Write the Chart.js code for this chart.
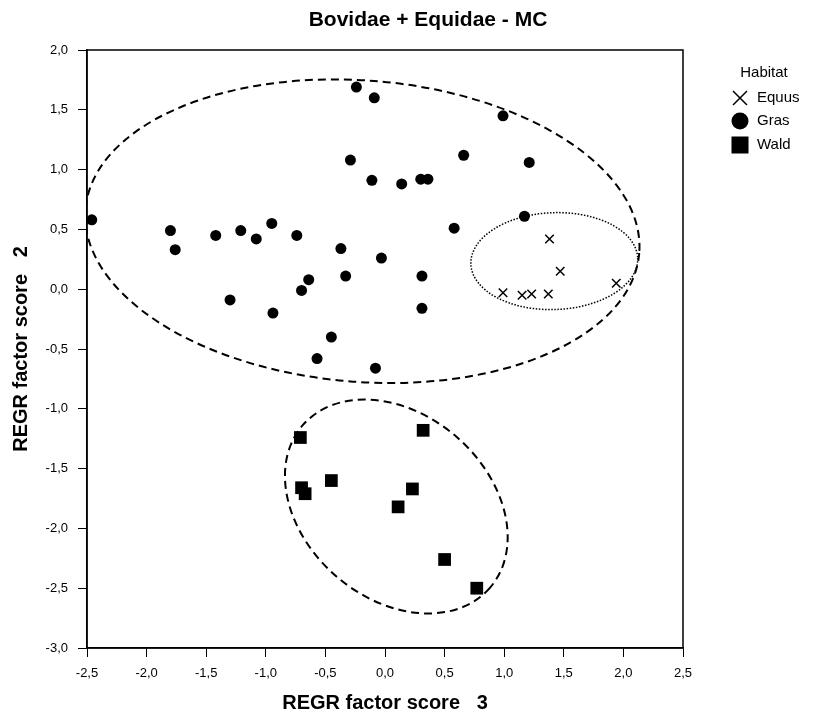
<!DOCTYPE html>
<html>
<head>
<meta charset="utf-8">
<title>Bovidae + Equidae - MC</title>
<script src="https://cdn.jsdelivr.net/npm/chart.js@4.4.1/dist/chart.umd.min.js"></script>
<style>
  html, body { margin: 0; padding: 0; background: #fff; }
</style>
</head>
<body>
<canvas id="scatter" width="813" height="715"></canvas>
<script>
// REGR factor scores (factor 3 on x, factor 2 on y) per habitat group
var groups = ['Equus', 'Gras', 'Wald'];

var equusX = [1.38, 1.47, 0.99, 1.15, 1.23, 1.37, 1.94];
var equusY = [0.42, 0.15, -0.03, -0.05, -0.04, -0.04, 0.05];

var grasX = [-2.46, -1.80, -1.76, -1.42, -1.21, -1.08, -0.95, -0.74, -1.30, -0.94, -0.70,
             -0.64, -0.37, -0.33, -0.03, -0.45, -0.57, -0.08, -0.24, -0.09, -0.29, -0.11,
             0.14, 0.30, 0.36, 0.66, 0.99, 1.21, 1.17, 0.58, 0.31, 0.31];
var grasY = [0.58, 0.49, 0.33, 0.45, 0.49, 0.42, 0.55, 0.45, -0.09, -0.20, -0.01,
             0.08, 0.34, 0.11, 0.26, -0.40, -0.58, -0.66, 1.69, 1.60, 1.08, 0.91,
             0.88, 0.92, 0.92, 1.12, 1.45, 1.06, 0.61, 0.51, 0.11, -0.16];

var waldX = [-0.71, -0.70, -0.67, -0.45, 0.32, 0.23, 0.11, 0.50, 0.77];
var waldY = [-1.24, -1.66, -1.71, -1.60, -1.18, -1.67, -1.82, -2.26, -2.50];

var xTicks = [-2.5, -2.0, -1.5, -1.0, -0.5, 0.0, 0.5, 1.0, 1.5, 2.0, 2.5];
var yTicks = [-3.0, -2.5, -2.0, -1.5, -1.0, -0.5, 0.0, 0.5, 1.0, 1.5, 2.0];

// group outlines: centre and half axes in score units, tilt in degrees
var outlines = [
  { cx: 1.42, cy: 0.235, rx: 0.70, ry: 0.405, tilt: -2, dash: [1.5, 1.6], width: 1.5 },
  { cx: -0.19, cy: 0.485, rx: 2.33, ry: 1.26, tilt: 4.5, dash: [8, 5], width: 2 },
  { cx: 0.095, cy: -1.817, rx: 1.04, ry: 0.77, tilt: 41, dash: [8, 5], width: 2 }
];

var FONT = '"Liberation Sans", Arial, sans-serif';
Chart.defaults.font.family = FONT;
Chart.defaults.color = '#000';

function points(xs, ys) {
  return xs.map(function (x, i) { return { x: x, y: ys[i] }; });
}

function comma(v) {
  return Number(v).toFixed(1).replace('.', ',');
}

var decor = {
  id: 'decor',
  beforeDatasetsDraw: function (chart) {
    var ctx = chart.ctx, a = chart.chartArea;
    var xs = chart.scales.x, ys = chart.scales.y;
    ctx.save();
    ctx.beginPath();
    ctx.rect(a.left, a.top, a.right - a.left, a.bottom - a.top);
    ctx.clip();
    outlines.forEach(function (e) {
      var cx = xs.getPixelForValue(e.cx), cy = ys.getPixelForValue(e.cy);
      var rx = Math.abs(xs.getPixelForValue(e.cx + e.rx) - cx);
      var ry = Math.abs(ys.getPixelForValue(e.cy + e.ry) - cy);
      ctx.beginPath();
      ctx.setLineDash(e.dash);
      ctx.lineWidth = e.width;
      ctx.strokeStyle = '#000';
      ctx.ellipse(cx, cy, rx, ry, e.tilt * Math.PI / 180, 0, 2 * Math.PI);
      ctx.stroke();
    });
    ctx.restore();
  },
  afterDraw: function (chart) {
    var ctx = chart.ctx, a = chart.chartArea;
    ctx.save();
    // box round the plot
    ctx.strokeStyle = '#000';
    ctx.lineWidth = 1.5;
    ctx.strokeRect(a.left, a.top, a.right - a.left, a.bottom - a.top);

    // heading
    ctx.fillStyle = '#000';
    ctx.textAlign = 'center';
    ctx.textBaseline = 'middle';
    ctx.font = 'bold 21px ' + FONT;
    ctx.fillText('Bovidae + Equidae - MC', 428, 20);

    // legend
    ctx.font = '15px ' + FONT;
    ctx.fillText('Habitat', 764, 73);
    ctx.textAlign = 'left';
    var gx = 740, tx = 757, rows = [98, 121, 145];
    groups.forEach(function (g, i) {
      var y = rows[i];
      ctx.fillText(g, tx, y);
      if (g === 'Equus') {
        ctx.lineWidth = 1.5;
        ctx.beginPath();
        ctx.moveTo(gx - 7, y - 7); ctx.lineTo(gx + 7, y + 7);
        ctx.moveTo(gx - 7, y + 7); ctx.lineTo(gx + 7, y - 7);
        ctx.stroke();
      } else if (g === 'Gras') {
        ctx.beginPath();
        ctx.arc(gx, y, 8.5, 0, 2 * Math.PI);
        ctx.fill();
      } else {
        ctx.fillRect(gx - 8.5, y - 8.5, 17, 17);
      }
    });
    ctx.restore();
  }
};

new Chart(document.getElementById('scatter'), {
  type: 'scatter',
  data: {
    datasets: [
      { label: groups[0], data: points(equusX, equusY), pointStyle: 'crossRot', radius: 6,
        borderColor: '#000', backgroundColor: '#000', borderWidth: 1.5 },
      { label: groups[1], data: points(grasX, grasY), pointStyle: 'circle', radius: 5.5,
        borderColor: '#000', backgroundColor: '#000', borderWidth: 0 },
      { label: groups[2], data: points(waldX, waldY), pointStyle: 'rect', radius: 9,
        borderColor: '#000', backgroundColor: '#000', borderWidth: 0 }
    ]
  },
  options: {
    responsive: false,
    animation: false,
    events: [],
    layout: { padding: { left: 0, right: 130, top: 50, bottom: 0 } },
    plugins: {
      legend: { display: false },
      title: { display: false },
      tooltip: { enabled: false }
    },
    scales: {
      x: {
        type: 'linear',
        min: -2.5,
        max: 2.5,
        afterBuildTicks: function (s) { s.ticks = xTicks.map(function (v) { return { value: v }; }); },
        afterFit: function (s) { s.height = 67; },
        ticks: { callback: comma, font: { size: 13 }, color: '#000', padding: 9, maxRotation: 0, autoSkip: false },
        grid: { drawOnChartArea: false, drawTicks: true, tickLength: 9, color: '#000', lineWidth: 1 },
        border: { display: true, color: '#000', width: 1.5 },
        title: { display: true, text: 'REGR factor score   3', color: '#000',
                 font: { size: 20, weight: 'bold' }, padding: { top: 0, bottom: 0 } }
      },
      y: {
        type: 'linear',
        min: -3,
        max: 2,
        afterBuildTicks: function (s) { s.ticks = yTicks.map(function (v) { return { value: v }; }); },
        afterFit: function (s) { s.width = 87; },
        ticks: { callback: comma, font: { size: 13 }, color: '#000', padding: 10, autoSkip: false },
        grid: { drawOnChartArea: false, drawTicks: true, tickLength: 9, color: '#000', lineWidth: 1 },
        border: { display: true, color: '#000', width: 1.5 },
        title: { display: true, text: 'REGR factor score   2', color: '#000',
                 font: { size: 20, weight: 'bold' }, padding: { top: 9, bottom: 0 } }
      }
    }
  },
  plugins: [decor]
});
</script>
</body>
</html>
